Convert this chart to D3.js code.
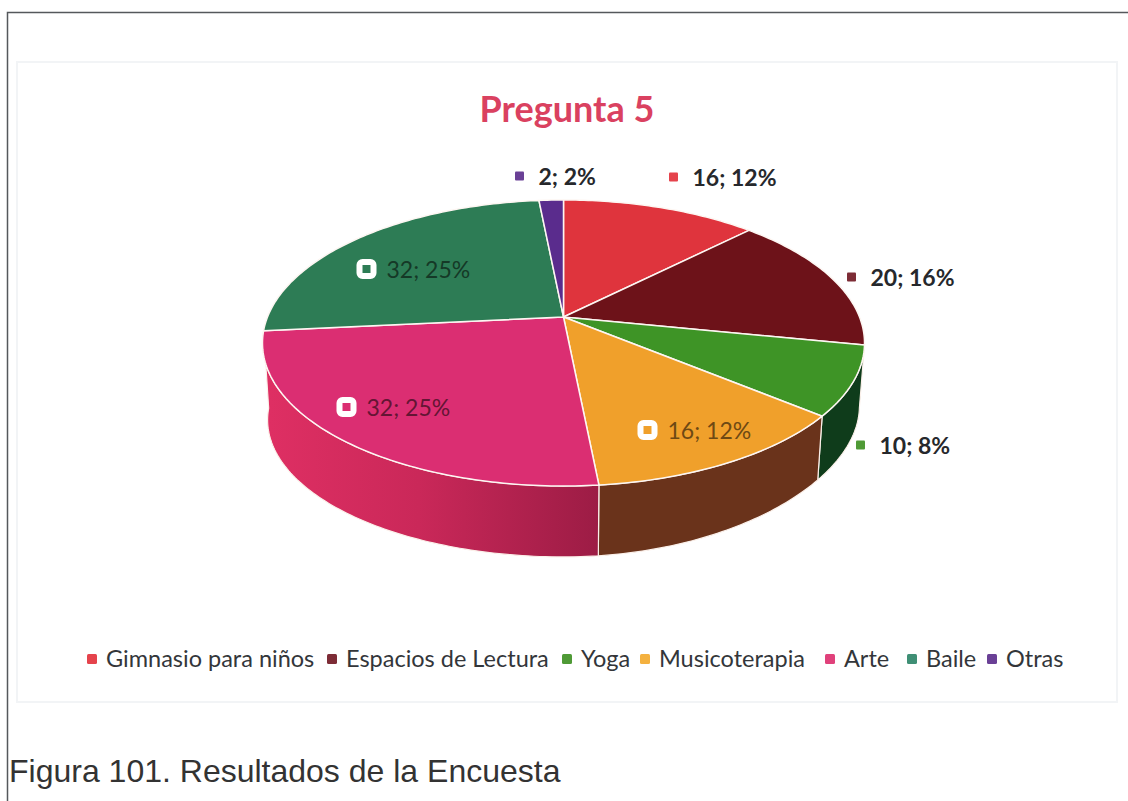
<!DOCTYPE html>
<html>
<head>
<meta charset="utf-8">
<title>Pregunta 5</title>
<script src="https://cdn.jsdelivr.net/npm/d3@7"></script>
<style>
    html, body { margin: 0; padding: 0; background: #fff; }
    svg { display: block; }
</style>
</head>
<body>
<script>
"use strict";

var categories = ["Gimnasio para niños", "Espacios de Lectura", "Yoga", "Musicoterapia", "Arte", "Baile", "Otras"];
var answers = [16, 20, 10, 16, 32, 32, 2];
var percents = [12, 16, 8, 12, 25, 25, 2];

var topColors = ["#df343d", "#6d1219", "#3e9426", "#f0a02b", "#db2e72", "#2d7c55", "#5a2c8d"];
var wallColors = ["#8f1f25", "#47090e", "#0f3c1b", "#6a331b", "url(#artWall)", "#174a31", "#371a57"];
var legendColors = ["#e5434c", "#7d2c36", "#4f9a36", "#f4b13f", "#e0417b", "#3f8f75", "#6a4096"];

// label anchors relative to the pie centre, true = sits on the slice
var labelAt = [[110, -140, false], [288, -40, false], [297, 128, false], [84, 113, true],
    [-217, 90, true], [-197, -48, true], [-44, -141, false]];
var legendX = [87, 327, 562, 640, 825, 907, 987];

var W = 1128, H = 801,
    cx = 563.5, cy = 317,
    tiltA = 296, tiltB = 138.3, tiltK = 0.1818,
    wallSx = 0.983, wallSy = 0.958, wallDy = 78, wallSkew = 0.00015;

var svg = d3.select("body").append("svg").attr("width", W).attr("height", H);

// perspective of the tilted disc: u to the right, v towards the viewer
var project = function (angle) {
    var u = Math.sin(angle), v = -Math.cos(angle), d = 1 - tiltK * v;
    return [tiltA * u / d, tiltB * v / d];
};
var topPoint = function (angle) {
    var p = project(angle);
    return [cx + p[0], cy + p[1]];
};
// lower rim of the wall, the right side is a little shallower in the picture
var wallPoint = function (angle) {
    var p = project(angle),
        right = Math.max(0, p[0]);
    return [cx + p[0] * wallSx, cy + p[1] * wallSy + wallDy - wallSkew * right * right];
};
var sample = function (a0, a1) {
    var n = Math.max(2, Math.ceil((a1 - a0) * 60));
    return d3.range(n + 1).map(function (i) { return a0 + (a1 - a0) * i / n; });
};

var slices = d3.pie().sort(null).startAngle(0).endAngle(2 * Math.PI)(answers);
var line = d3.line();

var grad = svg.append("defs").append("linearGradient")
    .attr("id", "artWall")
    .attr("gradientUnits", "userSpaceOnUse")
    .attr("x1", 270).attr("x2", 600).attr("y1", 0).attr("y2", 0);
grad.append("stop").attr("offset", "0").attr("stop-color", "#de2f63");
grad.append("stop").attr("offset", "0.45").attr("stop-color", "#ca2859");
grad.append("stop").attr("offset", "1").attr("stop-color", "#9c1c45");

// page frame and chart area
svg.append("path")
    .attr("d", "M7.5 801V12.5H1128")
    .attr("fill", "none")
    .attr("stroke", "#55585c")
    .attr("stroke-width", 1.5);
svg.append("rect")
    .attr("x", 17).attr("y", 62).attr("width", 1100).attr("height", 640)
    .attr("fill", "#fff")
    .attr("stroke", "#f2f4f6")
    .attr("stroke-width", 2);

svg.append("text")
    .text("Pregunta 5")
    .attr("x", 567).attr("y", 122)
    .attr("text-anchor", "middle")
    .attr("font-family", "Lato")
    .attr("font-weight", 700)
    .attr("font-size", 36)
    .attr("fill", "#da4160");

// walls of the front slices, then the top faces over them
svg.append("g").selectAll("path")
    .data(slices.filter(function (d) { return Math.cos((d.startAngle + d.endAngle) / 2) < 0; }))
    .enter()
    .append("path")
    .attr("d", function (d) {
        var angles = sample(d.startAngle, d.endAngle);
        var pts = angles.map(topPoint).concat(angles.slice().reverse().map(wallPoint));
        return line(pts) + "Z";
    })
    .attr("fill", function (d) { return wallColors[d.index]; })
    .attr("stroke", "#fbf0ea")
    .attr("stroke-width", 1.2);

svg.append("g").selectAll("path")
    .data(slices)
    .enter()
    .append("path")
    .attr("d", function (d) {
        var pts = [[cx, cy]].concat(sample(d.startAngle, d.endAngle).map(topPoint));
        return line(pts) + "Z";
    })
    .attr("fill", function (d, i) { return topColors[i]; })
    .attr("stroke", "#fdf6f2")
    .attr("stroke-width", 1.5)
    .attr("stroke-linejoin", "round");

// data labels
var labels = svg.append("g").selectAll("g")
    .data(slices)
    .enter()
    .append("g")
    .attr("transform", function (d, i) {
        return "translate(" + (cx + labelAt[i][0]) + "," + (cy + labelAt[i][1]) + ")";
    });

labels.append("rect")
    .attr("x", function (d, i) { return labelAt[i][2] ? -7 : -4.5; })
    .attr("y", function (d, i) { return labelAt[i][2] ? -7 : -4.5; })
    .attr("width", function (d, i) { return labelAt[i][2] ? 14 : 9; })
    .attr("height", function (d, i) { return labelAt[i][2] ? 14 : 9; })
    .attr("rx", function (d, i) { return labelAt[i][2] ? 3 : 1; })
    .attr("fill", function (d, i) { return labelAt[i][2] ? topColors[i] : legendColors[i]; })
    .attr("stroke", function (d, i) { return labelAt[i][2] ? "#fff" : "none"; })
    .attr("stroke-width", 6);

labels.append("text")
    .text(function (d, i) { return answers[i] + "; " + percents[i] + "%"; })
    .attr("x", function (d, i) { return labelAt[i][2] ? 20 : 19; })
    .attr("y", 9)
    .attr("font-family", "Lato")
    .attr("font-size", 23)
    .attr("font-weight", function (d, i) { return labelAt[i][2] ? 400 : 700; })
    .attr("fill", function (d, i) {
        return labelAt[i][2] ? d3.color(topColors[i]).darker(2.2) : "#26282c";
    });

// legend
var legend = svg.append("g").selectAll("g")
    .data(categories)
    .enter()
    .append("g")
    .attr("transform", function (d, i) { return "translate(" + legendX[i] + ",659)"; });

legend.append("rect")
    .attr("y", -5).attr("width", 10).attr("height", 10).attr("rx", 1.5)
    .attr("fill", function (d, i) { return legendColors[i]; });

legend.append("text")
    .text(function (d) { return d; })
    .attr("x", 19).attr("y", 8)
    .attr("font-family", "Lato")
    .attr("font-size", 23.5)
    .attr("fill", "#33363a");

svg.append("text")
    .text("Figura 101. Resultados de la Encuesta")
    .attr("x", 9).attr("y", 782)
    .attr("font-family", "Liberation Sans")
    .attr("font-size", 32)
    .attr("fill", "#333");
</script>
</body>
</html>
